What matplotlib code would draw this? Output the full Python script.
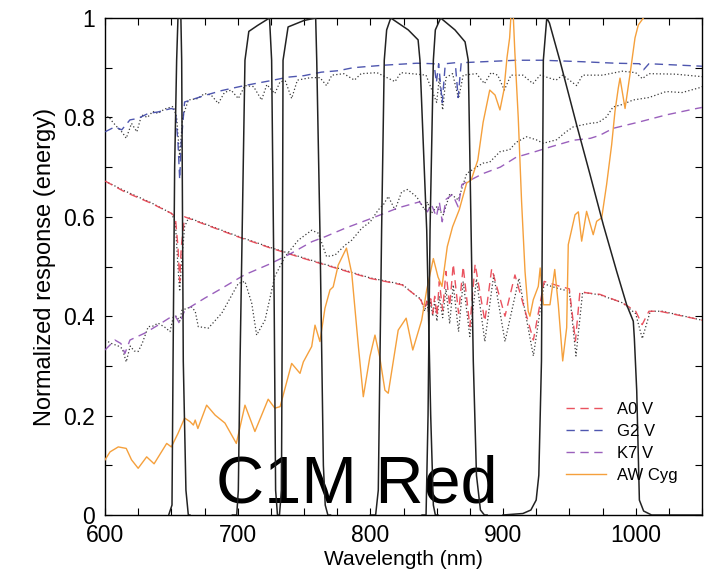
import matplotlib
matplotlib.use("Agg")
import matplotlib.pyplot as plt
from matplotlib.ticker import FixedLocator, FuncFormatter

plt.rcParams['font.family'] = ['Liberation Sans', 'DejaVu Sans']

# ---------------- data ----------------
a0_wl = [600, 615, 635, 650, 653, 655, 656.3, 657.5, 660, 663, 700, 725, 750, 775, 800, 824, 835,
         838, 841, 842.5, 844, 845.5, 847, 848.5, 850.2, 852, 854.5, 857, 859.8, 862.5, 866.5, 870,
         875, 879, 886.3, 891.5, 901.5, 909, 922.9, 931, 943, 950, 954.6, 958, 963, 973, 990, 1000,
         1004.9, 1010, 1018, 1048.5, 1050]
a0_val = [0.672, 0.650, 0.627, 0.607, 0.600, 0.540, 0.470, 0.540, 0.600, 0.597, 0.560, 0.537, 0.516,
          0.496, 0.476, 0.463, 0.440, 0.433, 0.415, 0.430, 0.410, 0.435, 0.405, 0.440, 0.400, 0.470,
          0.412, 0.490, 0.420, 0.505, 0.406, 0.500, 0.379, 0.505, 0.390, 0.496, 0.400, 0.483, 0.352,
          0.470, 0.460, 0.455, 0.350, 0.450, 0.447, 0.444, 0.427, 0.410, 0.383, 0.410, 0.410, 0.393, 0.392]

a0m_wl = [600, 615, 635, 650, 653, 655, 656.3, 657.5, 660, 663, 700, 725, 750, 775, 800, 824, 835,
          838, 841, 842.5, 844, 845.5, 847, 848.5, 850.2, 852, 854.5, 857, 859.8, 862.5, 866.5, 870,
          875, 880, 886.3, 893, 901.5, 912, 922.9, 931, 940, 950, 955, 960, 973, 990, 1000, 1005,
          1011, 1020, 1050]
a0m_val = [0.672, 0.652, 0.628, 0.607, 0.590, 0.500, 0.450, 0.500, 0.580, 0.598, 0.561, 0.538, 0.517,
           0.497, 0.477, 0.464, 0.440, 0.435, 0.410, 0.430, 0.405, 0.430, 0.400, 0.430, 0.390, 0.440,
           0.397, 0.455, 0.385, 0.463, 0.369, 0.470, 0.359, 0.475, 0.349, 0.483, 0.349, 0.476, 0.320,
           0.465, 0.457, 0.450, 0.320, 0.448, 0.443, 0.427, 0.405, 0.355, 0.410, 0.410, 0.392]

g2_wl = [600, 607.5, 612.6, 618.8, 625, 632.6, 640, 650, 653, 655, 656.3, 657.5, 660, 675, 688, 705,
         725, 738, 750, 763, 776, 787, 810, 835, 848, 849.8, 851.5, 854.2, 856.5, 864, 866.2, 868.5,
         885, 910, 930, 960, 985, 1003, 1006, 1010, 1050]
g2_val = [0.771, 0.781, 0.775, 0.795, 0.798, 0.808, 0.811, 0.818, 0.815, 0.750, 0.675, 0.750, 0.831,
          0.844, 0.854, 0.864, 0.874, 0.881, 0.884, 0.891, 0.894, 0.900, 0.905, 0.909, 0.908, 0.870,
          0.908, 0.830, 0.908, 0.910, 0.840, 0.910, 0.912, 0.915, 0.915, 0.912, 0.909, 0.908, 0.896,
          0.908, 0.903]

g2m_wl = [600, 602.5, 606, 610, 613, 616, 620, 624, 627.6, 632, 636, 640, 645, 651.5, 654, 656.3, 658.5,
          662.8, 670, 675, 680, 685.4, 690, 695, 700.5, 705.5, 712, 718, 722, 728, 732, 736, 740.7, 745,
          755, 762, 767, 771, 780, 788, 793, 805, 818.6, 823, 835, 842, 850, 852, 854.5, 857, 862, 866.5,
          870, 880, 886, 891, 896, 901, 906, 915, 922.6, 928, 940, 945, 955.5, 960, 975, 990, 1000, 1005,
          1010, 1030, 1050]
g2m_val = [0.795, 0.802, 0.790, 0.778, 0.770, 0.758, 0.788, 0.771, 0.805, 0.800, 0.812, 0.808, 0.817,
           0.822, 0.800, 0.720, 0.800, 0.835, 0.838, 0.848, 0.845, 0.828, 0.850, 0.855, 0.838, 0.864,
           0.862, 0.835, 0.866, 0.848, 0.872, 0.873, 0.838, 0.875, 0.880, 0.880, 0.864, 0.885, 0.888,
           0.875, 0.888, 0.890, 0.872, 0.890, 0.887, 0.885, 0.830, 0.880, 0.815, 0.880, 0.888, 0.838,
           0.885, 0.888, 0.868, 0.890, 0.885, 0.855, 0.885, 0.885, 0.868, 0.885, 0.875, 0.885, 0.864,
           0.885, 0.885, 0.893, 0.890, 0.878, 0.888, 0.887, 0.882]

k7_wl = [600, 607.5, 612, 615, 618.8, 630, 640, 650, 653, 656.3, 659, 660.3, 675, 688, 705, 725, 740,
         756, 766, 781, 801, 821, 837, 843, 846, 849.8, 852, 854.2, 857, 862, 866.2, 869, 885, 898, 910,
         923, 935, 953, 966, 973, 983, 1003, 1023, 1046, 1050]
k7_val = [0.332, 0.352, 0.345, 0.325, 0.352, 0.366, 0.382, 0.399, 0.400, 0.385, 0.405, 0.412, 0.436,
          0.456, 0.483, 0.506, 0.526, 0.550, 0.560, 0.577, 0.597, 0.618, 0.630, 0.610, 0.625, 0.600,
          0.630, 0.590, 0.635, 0.645, 0.620, 0.665, 0.687, 0.700, 0.720, 0.730, 0.740, 0.754, 0.758,
          0.764, 0.778, 0.791, 0.805, 0.818, 0.820]

k7m_wl = [600, 605, 610, 613, 616, 619, 622, 625, 628, 632.6, 636, 640, 645, 649, 651.5, 654, 656.3, 658,
          665, 668, 670.3, 677.9, 688, 700.5, 705.5, 710.6, 714.3, 720.6, 728, 735.7, 745.7, 755.8, 760.8,
          767, 773.4, 781, 786, 793.5, 800, 806, 810, 813.5, 818.6, 823.6, 828, 835, 841, 843, 846, 850,
          855, 860, 866.3, 872.6, 880, 885, 890, 897.7, 905, 910, 917.8, 925, 930.4, 940.4, 947, 953, 960,
          965.6, 972, 978, 983, 990, 998, 1010, 1023, 1035, 1048.5, 1050]
k7m_val = [0.352, 0.345, 0.340, 0.335, 0.308, 0.340, 0.330, 0.329, 0.345, 0.379, 0.380, 0.386, 0.378,
           0.369, 0.399, 0.400, 0.390, 0.412, 0.419, 0.410, 0.379, 0.376, 0.406, 0.466, 0.470, 0.426,
           0.362, 0.392, 0.480, 0.520, 0.553, 0.573, 0.567, 0.520, 0.523, 0.543, 0.553, 0.577, 0.590,
           0.614, 0.625, 0.641, 0.614, 0.650, 0.655, 0.640, 0.614, 0.630, 0.607, 0.620, 0.604, 0.647,
           0.634, 0.687, 0.700, 0.708, 0.710, 0.731, 0.735, 0.750, 0.761, 0.755, 0.748, 0.755, 0.770,
           0.781, 0.785, 0.788, 0.790, 0.801, 0.821, 0.826, 0.835, 0.840, 0.852, 0.850, 0.860, 0.862]

aw_wl = [600, 603.8, 610, 616, 620, 625, 631.4, 637, 646.5, 650, 655, 660, 664, 666.6, 668, 670, 676.6,
         683, 690.4, 699, 705.5, 713, 723, 728, 732, 740.7, 747, 749.5, 755.8, 758.3, 762, 765.8, 769.6,
         772, 775.8, 782, 786, 791, 794.7, 799.7, 803.5, 807, 811, 813.5, 821, 827, 832, 838.7, 842.5,
         847.5, 851, 854, 858, 862, 867, 872.6, 876, 881, 885, 890, 894, 897.7, 900.7, 903, 905, 907,
         908.9, 911.5, 914, 916.6, 919, 920.3, 922.8, 926.6, 928, 930.4, 935.4, 939, 941.7, 945, 948,
         949.2, 954.3, 956.8, 959.3, 963, 968, 970.6, 974.4, 978.1, 981.9, 984.4, 986.9, 988.2, 992,
         995.7, 999.5, 1002, 1005.8, 1008, 1050]
aw_val = [0.111, 0.127, 0.137, 0.134, 0.111, 0.094, 0.117, 0.103, 0.144, 0.137, 0.164, 0.195, 0.188,
          0.181, 0.191, 0.174, 0.221, 0.201, 0.185, 0.144, 0.221, 0.168, 0.233, 0.215, 0.218, 0.305,
          0.285, 0.308, 0.339, 0.382, 0.349, 0.416, 0.453, 0.459, 0.503, 0.537, 0.486, 0.339, 0.238,
          0.319, 0.362, 0.319, 0.251, 0.245, 0.372, 0.396, 0.332, 0.392, 0.453, 0.516, 0.479, 0.460,
          0.540, 0.580, 0.614, 0.668, 0.674, 0.714, 0.790, 0.855, 0.845, 0.815, 0.855, 0.920, 0.960,
          1.050, 0.933, 0.799, 0.631, 0.490, 0.410, 0.400, 0.433, 0.460, 0.497, 0.423, 0.423, 0.494,
          0.423, 0.310, 0.377, 0.544, 0.604, 0.610, 0.551, 0.611, 0.564, 0.591, 0.598, 0.665, 0.745,
          0.812, 0.859, 0.879, 0.818, 0.886, 0.960, 0.986, 1.000, 1.050, 1.500]

# filter throughput curves (C1M Red set)
f1_wl = [648, 650.5, 651.3, 652.5, 654, 655, 657.2, 657.8, 659, 661, 662.8, 664]
f1_val = [0.0, 0.02, 0.31, 0.70, 0.915, 1.0, 1.0, 0.915, 0.31, 0.05, 0.0, 0.0]
f2_wl = [696, 699.3, 700.5, 701.8, 705.5, 708.4, 715, 724, 725.6, 727.5, 728.6, 730, 731]
f2_val = [0.0, 0.0, 0.05, 0.31, 0.915, 0.973, 0.985, 1.0, 0.915, 0.43, 0.05, 0.0, 0.0]
f3_wl = [731.5, 733, 733.6, 734.2, 738, 750, 758.8, 759.6, 762, 764.6, 766, 768, 770]
f3_val = [0.0, 0.05, 0.40, 0.915, 0.982, 0.995, 1.0, 0.915, 0.573, 0.10, 0.02, 0.0, 0.0]
f4_wl = [800, 804, 806, 808.5, 810.5, 812.3, 815.4, 828.6, 836, 837.4, 842.5, 845.5, 847.5, 849, 851]
f4_val = [0.0, 0.0, 0.05, 0.573, 0.915, 0.976, 1.0, 0.976, 0.956, 0.915, 0.573, 0.20, 0.02, 0.0, 0.0]
f5_wl = [839, 842, 843.5, 845, 847.5, 849, 853, 863.8, 871.4, 873.8, 877.6, 880, 883, 886, 888]
f5_val = [0.0, 0.0, 0.20, 0.573, 0.915, 0.976, 1.0, 0.976, 0.952, 0.915, 0.31, 0.08, 0.01, 0.0, 0.0]
f6_wl = [900, 915, 921, 925, 927, 929, 930.4, 933, 935, 943, 955.5, 965.6, 975.6, 985.7, 993.2, 998.2,
         999, 1000.8, 1002.8, 1006, 1012, 1050]
f6_val = [0.0, 0.003, 0.01, 0.03, 0.08, 0.31, 0.915, 1.0, 0.99, 0.913, 0.785, 0.685, 0.584, 0.49, 0.423,
          0.39, 0.356, 0.25, 0.03, 0.008, 0.0, 0.0]

legend_labels = ["A0 V", "G2 V", "K7 V", "AW Cyg"]
x_tick_labels = ["600", "700", "800", "900", "1000"]
y_tick_labels = ["0", "0.2", "0.4", "0.6", "0.8", "1"]
panel_label = "C1M Red"

# ---------------- figure ----------------
fig = plt.figure(figsize=(7.17, 5.73), dpi=100)
ax = fig.add_axes([105 / 717, 58 / 573, 597 / 717, 497 / 573])

red = '#e8404e'
blue = '#3b44a6'
purple = '#8f4fb5'
orange = '#f5a03c'
dots = (0, (1.0, 1.8))
dash = (0, (6, 4))

# black dotted model spectra underneath the dashed ones
for wl, val in [(a0m_wl, a0m_val), (g2m_wl, g2m_val), (k7m_wl, k7m_val)]:
    ax.plot(wl, val, color='#3a3a3a', lw=0.9, ls=dots, zorder=2)

ax.plot(a0_wl, a0_val, color=red, lw=1.0, ls=dash, alpha=0.9, label=legend_labels[0], zorder=3)
ax.plot(g2_wl, g2_val, color=blue, lw=1.0, ls=dash, alpha=0.9, label=legend_labels[1], zorder=3)
ax.plot(k7_wl, k7_val, color=purple, lw=1.0, ls=dash, alpha=0.9, label=legend_labels[2], zorder=3)
ax.plot(aw_wl, aw_val, color=orange, lw=1.0, label=legend_labels[3], zorder=3)

for wl, val in [(f1_wl, f1_val), (f2_wl, f2_val), (f3_wl, f3_val),
                (f4_wl, f4_val), (f5_wl, f5_val), (f6_wl, f6_val)]:
    ax.plot(wl, val, color='#222222', lw=1.1, zorder=4)

ax.set_xlim(600, 1050)
ax.set_ylim(0, 1)

xt = [600 + 25 * i for i in range(19)]
yt = [0.1 * i for i in range(11)]
ax.xaxis.set_major_locator(FixedLocator(xt))
ax.yaxis.set_major_locator(FixedLocator(yt))
ax.xaxis.set_major_formatter(FuncFormatter(
    lambda v, p: x_tick_labels[int(round((v - 600) / 100))] if abs((v - 600) % 100) < 1e-6 else ''))
ax.yaxis.set_major_formatter(FuncFormatter(
    lambda v, p: y_tick_labels[int(round(v / 0.2))] if abs(v / 0.2 - round(v / 0.2)) < 1e-6 else ''))
ax.tick_params(direction='in', length=5, width=0.8, top=True, right=True, labelsize=16.5)
ax.tick_params(axis='x', pad=6.5)
ax.tick_params(axis='y', pad=7)
for s in ax.spines.values():
    s.set_linewidth(1.0)

ax.set_xlabel("Wavelength (nm)", fontsize=15, labelpad=2)
ax.set_ylabel("Normalized response (energy)", fontsize=17, labelpad=5)

ax.text(790, 0.025, panel_label, fontsize=48, ha='center', va='baseline')

leg = ax.legend(loc='lower right', bbox_to_anchor=(0.985, 0.035), frameon=False, fontsize=12,
                handlelength=2.4, handletextpad=0.7, labelspacing=0.42)

# bottom of the x label of the panel above, cut by the figure edge
fig.text(0.565, 1.011, "Wavelength (nm)", fontsize=15, ha='center', va='baseline')

fig.savefig("out.png", dpi=100)
